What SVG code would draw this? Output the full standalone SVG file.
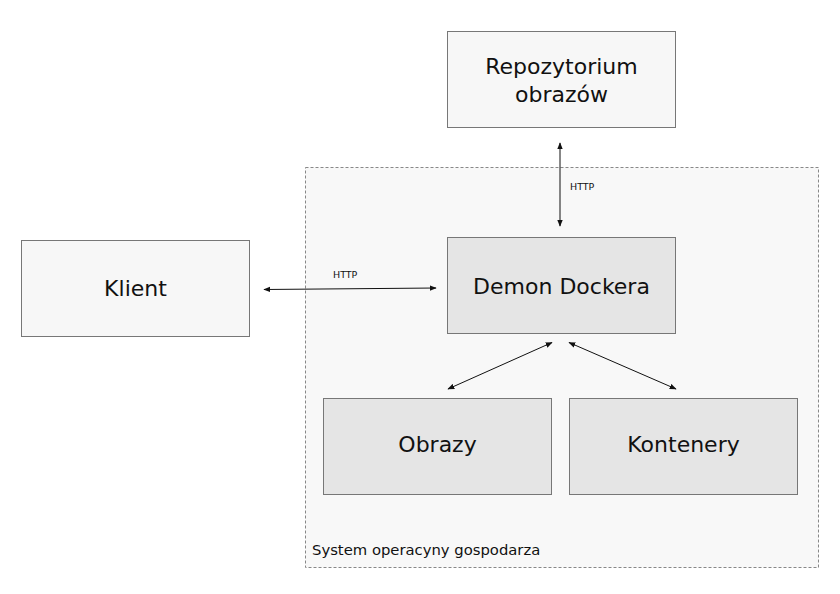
<svg xmlns="http://www.w3.org/2000/svg" width="840" height="594" viewBox="0 0 840 594">
<style>
text{font-family:"DejaVu Sans","Liberation Sans",sans-serif;fill:#111}
.box{fill:#f7f7f7;stroke:#777;stroke-width:1}
.inner{fill:#e5e5e5;stroke:#777;stroke-width:1}
.lbl{font-size:22px;text-anchor:middle}
.small{font-size:9.5px}
.conn{stroke:#111;stroke-width:1;fill:none;marker-start:url(#a);marker-end:url(#a)}
</style>
<defs>
<marker id="a" viewBox="0 0 10 10" refX="9" refY="5" markerWidth="7" markerHeight="7" orient="auto-start-reverse" markerUnits="userSpaceOnUse">
<path d="M0,1 L10,5 L0,9 Z" fill="#111"/>
</marker>
</defs>
<rect width="840" height="594" fill="#fff"/>
<g id="host">
<rect x="305.5" y="167.5" width="513" height="400" fill="#f8f8f8" stroke="#888" stroke-dasharray="3,2"/>
<text x="312" y="555" style="font-size:14.8px">System operacyny gospodarza</text>
</g>
<g id="repo">
<rect class="box" x="447.5" y="31.5" width="228" height="96"/>
<text class="lbl" x="561.5" y="74">Repozytorium</text>
<text class="lbl" x="561.5" y="102">obrazów</text>
</g>
<g id="klient">
<rect class="box" x="21.5" y="240.5" width="228" height="96"/>
<text class="lbl" x="135.5" y="296">Klient</text>
</g>
<g id="demon">
<rect class="inner" x="447.5" y="237.5" width="228" height="96"/>
<text class="lbl" x="561.5" y="294">Demon Dockera</text>
</g>
<g id="obrazy">
<rect class="inner" x="323.5" y="398.5" width="228" height="96"/>
<text class="lbl" x="437.5" y="452">Obrazy</text>
</g>
<g id="kontenery">
<rect class="inner" x="569.5" y="398.5" width="228" height="96"/>
<text class="lbl" x="683.5" y="452">Kontenery</text>
</g>
<g id="connectors">
<line class="conn" x1="560" y1="143" x2="560" y2="226"/>
<text class="small" x="570" y="190">HTTP</text>
<line class="conn" x1="264" y1="289.5" x2="436" y2="288"/>
<text class="small" x="333" y="278">HTTP</text>
<line class="conn" x1="552" y1="342.5" x2="448" y2="389"/>
<line class="conn" x1="569" y1="342.5" x2="676" y2="389"/>
</g>
</svg>
